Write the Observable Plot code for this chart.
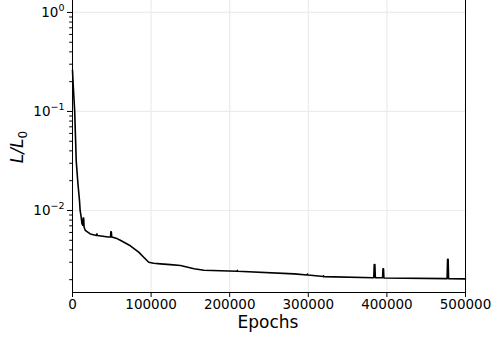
<!DOCTYPE html>
<html><head><meta charset="utf-8">
<script src="https://cdn.jsdelivr.net/npm/d3@7"></script>
<script src="https://cdn.jsdelivr.net/npm/@observablehq/plot@0.6"></script>
<style>
body{margin:0;background:#fff}
svg{display:block}
</style>
</head><body><div id="chart"></div>
<script>
const epochs = [0,900,2800,3500,4100,4700,6900,8900,9700,11100,12000,13000,13600,14200,14700,16200,22600,30500,31100,31700,45300,48400,48800,49400,49900,56600,60800,73600,84200,90600,97000,103300,111900,124600,137400,154700,167100,209300,209700,210100,281900,298600,299000,299400,316000,319000,319400,319800,383300,383900,384700,385300,394500,395000,395700,396200,476600,477200,477900,478500,500000];
const loss = [0.26,0.185,0.10,0.065,0.047,0.032,0.0187,0.0126,0.0100,0.0085,0.0074,0.0071,0.0084,0.0084,0.0068,0.0063,0.0058,0.0056,0.0058,0.0056,0.0054,0.0054,0.0061,0.0061,0.0054,0.0052,0.0050,0.0044,0.0038,0.00337,0.0030,0.00293,0.00289,0.00284,0.00278,0.00258,0.00249,0.00243,0.00248,0.00243,0.00229,0.00223,0.00228,0.00223,0.00217,0.00215,0.00219,0.00215,0.00209,0.00285,0.00285,0.00209,0.00209,0.00258,0.00258,0.00208,0.00205,0.00322,0.00322,0.00205,0.00204];

const xTicks = [0,100000,200000,300000,400000,500000];
const xTickLabels = ["0","100000","200000","300000","400000","500000"];
const yTicks = [1,0.1,0.01];
const yTickBase = "10";
const yTickExponents = ["0","−1","−2"];
const yMinorTicks = [0.002,0.003,0.004,0.005,0.006,0.007,0.008,0.009,0.02,0.03,0.04,0.05,0.06,0.07,0.08,0.09,0.2,0.3,0.4,0.5,0.6,0.7,0.8,0.9];
const xDomain = [0,500000];
const yDomain = [0.001485,1.32];
const xLabel = "Epochs";

const data = epochs.map((e,i)=>({epoch:e, loss:loss[i]}));

const plot = Plot.plot({
  width: 493,
  height: 292,
  marginLeft: 72,
  marginRight: 28,
  marginTop: 0,
  marginBottom: 0,
  style: {fontFamily: "DejaVu Sans", color: "#000", background: "#fff", overflow: "visible"},
  x: {type: "linear", domain: xDomain, label: null},
  y: {type: "log", domain: yDomain, label: null},
  marks: [
    Plot.gridX(xTicks, {stroke: "#ececec", strokeOpacity: 1, strokeWidth: 1.2}),
    Plot.gridY(yTicks, {stroke: "#ececec", strokeOpacity: 1, strokeWidth: 1.2}),
    Plot.line(data, {x: "epoch", y: "loss", stroke: "#000", strokeWidth: 1.6, strokeLinejoin: "round"}),
    Plot.ruleX([xDomain[0], xDomain[1]], {stroke: "#000", strokeWidth: 1}),
    Plot.ruleY([yDomain[0]], {stroke: "#000", strokeWidth: 1}),
    Plot.axisX({ticks: xTicks, tickFormat: (d)=>xTickLabels[xTicks.indexOf(d)], tickSize: 5, tickPadding: 2, label: null, anchor: "bottom"}),
    Plot.axisY({ticks: yTicks, tickFormat: (d)=>yTickBase + "^" + yTickExponents[yTicks.indexOf(d)], tickSize: 5, tickPadding: 3, label: null, anchor: "left"}),
    Plot.axisY({ticks: yMinorTicks, tickFormat: ()=>"", tickSize: 2.8, label: null, anchor: "left"})
  ]
});

// tick label font sizes
const ps = d3.select(plot);
ps.selectAll('g[aria-label="x-axis tick label"]').attr("font-size", 13.5).attr("fill", "#000");
ps.selectAll('g[aria-label="y-axis tick label"]').attr("font-size", 13.5).attr("fill", "#000");
ps.selectAll('g[aria-label="y-axis tick label"] text').each(function(){
  const t = d3.select(this);
  const s = t.text();
  if (!s.includes("^")) return;
  const [b, e] = s.split("^");
  t.text("");
  t.append("tspan").text(b);
  t.append("tspan").attr("font-size", 9.5).attr("dy", -5.5).text(e);
});

const wrap = document.createElement("div");
wrap.style.position = "relative";
wrap.style.width = "493px";
wrap.style.height = "339px";
wrap.appendChild(plot);
document.getElementById("chart").appendChild(wrap);

// axis labels as real text in an overlay svg
const ov = d3.select(wrap).append("svg")
  .attr("width", 493).attr("height", 339)
  .style("position","absolute").style("left","0").style("top","0")
  .style("pointer-events","none")
  .attr("font-family","DejaVu Sans");
ov.append("text").attr("x", 268).attr("y", 328).attr("text-anchor","middle")
  .attr("font-size", 17).attr("fill","#000").text(xLabel);
const yl = ov.append("text").attr("transform","translate(23,147) rotate(-90)")
  .attr("text-anchor","middle").attr("font-size",17).attr("fill","#000").attr("font-style","italic");
yl.append("tspan").text("L/L");
yl.append("tspan").attr("font-size",12).attr("dy",4).attr("font-style","normal").text("0");
</script>
</body></html>
